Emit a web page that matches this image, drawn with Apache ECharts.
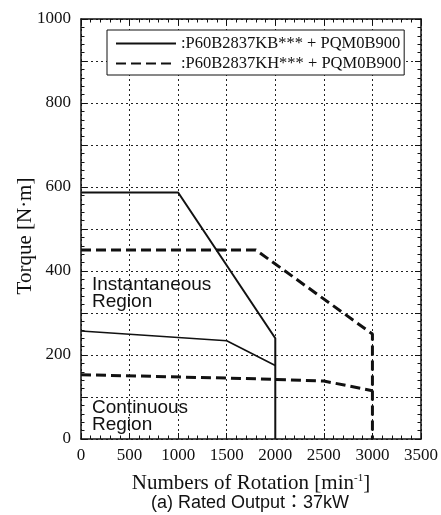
<!DOCTYPE html>
<html>
<head>
<meta charset="utf-8">
<script src="https://cdn.jsdelivr.net/npm/echarts@6/dist/echarts.min.js"></script>
<style>
  html, body { margin: 0; padding: 0; background: #fff; }
  #main { width: 441px; height: 515px; }
</style>
</head>
<body>
<div id="main"></div>
<script>
var dom = document.getElementById('main');
var myChart = echarts.init(dom, null, { renderer: 'canvas' });

// legend names
var kbName = ':P60B2837KB*** + PQM0B900';
var khName = ':P60B2837KH*** + PQM0B900';

// KB (solid) : instantaneous + continuous
var kbInstRpm = [0, 1000, 2000, 2000];
var kbInstTorque = [587, 587, 240, 0];
var kbContRpm = [0, 1500, 2000];
var kbContTorque = [257, 234, 175];

// KH (dashed) : instantaneous + continuous
var khInstRpm = [0, 1800, 3000, 3000];
var khInstTorque = [450, 450, 250, 0];
var khContRpm = [0, 1500, 2000, 2500, 3000];
var khContTorque = [153, 145, 142, 138, 115];

// axes
var xMin = 0, xMax = 3500, xStep = 500;
var yMin = 0, yMax = 1000, yStep = 100;

function pairs(xs, ys) {
  return xs.map(function (x, i) { return [x, ys[i]]; });
}

var serif = '"Liberation Serif", "DejaVu Serif", serif';
var sans = '"Liberation Sans", Arial, sans-serif';

var gridLine = { show: true, lineStyle: { color: '#222', width: 1, type: [2, 3] } };
var tick = { show: true, inside: true, length: 6, lineStyle: { color: '#111', width: 1 } };
var minor = { show: true, splitNumber: 5, length: 3.5, lineStyle: { color: '#111', width: 1 } };
var axLine = { show: true, onZero: false, lineStyle: { color: '#111', width: 1.5 } };

var option = {
  animation: false,
  backgroundColor: '#fff',
  grid: { left: 81, right: 19, top: 19, bottom: 76 },
  title: {
    text: '(a) Rated Output：37kW',
    left: 151,
    top: 494,
    padding: 0,
    textStyle: { fontFamily: sans + ', "Noto Sans CJK JP"', fontSize: 18, fontWeight: 'normal', color: '#111' }
  },
  legend: {
    orient: 'vertical',
    left: 107,
    top: 30,
    padding: [5, 3, 3, 8],
    itemWidth: 60,
    itemHeight: 14,
    itemGap: 3,
    backgroundColor: '#fff',
    borderColor: '#111',
    borderWidth: 1,
    itemStyle: { opacity: 0 },
    data: [kbName, khName],
    textStyle: { fontFamily: serif, fontSize: 16.5, color: '#111' }
  },
  xAxis: [{
    type: 'value', min: xMin, max: xMax, interval: xStep,
    axisLine: axLine, axisTick: tick, minorTick: minor,
    splitLine: gridLine,
    axisLabel: {
      fontFamily: serif, fontSize: 17, color: '#111', margin: 8,
      formatter: function (v) { return String(v); }
    },
    name: 'Numbers of Rotation [min{sup|-1}]',
    nameLocation: 'middle',
    nameGap: 34,
    nameMoveOverlap: false,
    nameTextStyle: {
      fontFamily: serif, fontSize: 21, color: '#111',
      rich: { sup: { fontFamily: serif, fontSize: 11, color: '#111', verticalAlign: 'top', padding: [0, 0, 9, 0] } }
    }
  }, {
    type: 'value', position: 'top', min: xMin, max: xMax, interval: xStep,
    axisLine: axLine, axisTick: tick, minorTick: minor,
    splitLine: { show: false }, axisLabel: { show: false }
  }],
  yAxis: [{
    type: 'value', min: yMin, max: yMax, interval: yStep,
    axisLine: axLine, axisTick: tick, minorTick: minor,
    splitLine: gridLine,
    axisLabel: {
      fontFamily: serif, fontSize: 17, color: '#111', margin: 10,
      formatter: function (v) { return v % 200 === 0 ? String(v) : ''; }
    },
    name: 'Torque [N·m]',
    nameLocation: 'middle',
    nameGap: 45,
    nameMoveOverlap: false,
    nameTextStyle: { fontFamily: serif, fontSize: 21, color: '#111', padding: [0, 14, 0, 0] }
  }, {
    type: 'value', position: 'right', min: yMin, max: yMax, interval: yStep,
    axisLine: axLine, axisTick: tick, minorTick: minor,
    splitLine: { show: false }, axisLabel: { show: false }
  }],
  graphic: [
    {
      type: 'text', left: 92, top: 275,
      style: { text: 'Instantaneous\nRegion', font: '19px ' + sans, lineHeight: 17, fill: '#111' }
    },
    {
      type: 'text', left: 92, top: 398,
      style: { text: 'Continuous\nRegion', font: '19px ' + sans, lineHeight: 17, fill: '#111' }
    }
  ],
  series: [
    {
      name: kbName, type: 'line', symbol: 'none', z: 3,
      lineStyle: { color: '#111', width: 2, type: 'solid' },
      data: pairs(kbInstRpm, kbInstTorque)
    },
    {
      name: kbName, type: 'line', symbol: 'none', z: 3,
      lineStyle: { color: '#111', width: 1.6, type: 'solid' },
      data: pairs(kbContRpm, kbContTorque)
    },
    {
      name: khName, type: 'line', symbol: 'none', z: 3,
      lineStyle: { color: '#111', width: 3, type: [10, 5] },
      data: pairs(khInstRpm, khInstTorque)
    },
    {
      name: khName, type: 'line', symbol: 'none', z: 3,
      lineStyle: { color: '#111', width: 3, type: [10, 5] },
      data: pairs(khContRpm, khContTorque)
    }
  ]
};

if (option && typeof option === 'object') {
  myChart.setOption(option);
}

window.addEventListener('resize', myChart.resize);
</script>
</body>
</html>
